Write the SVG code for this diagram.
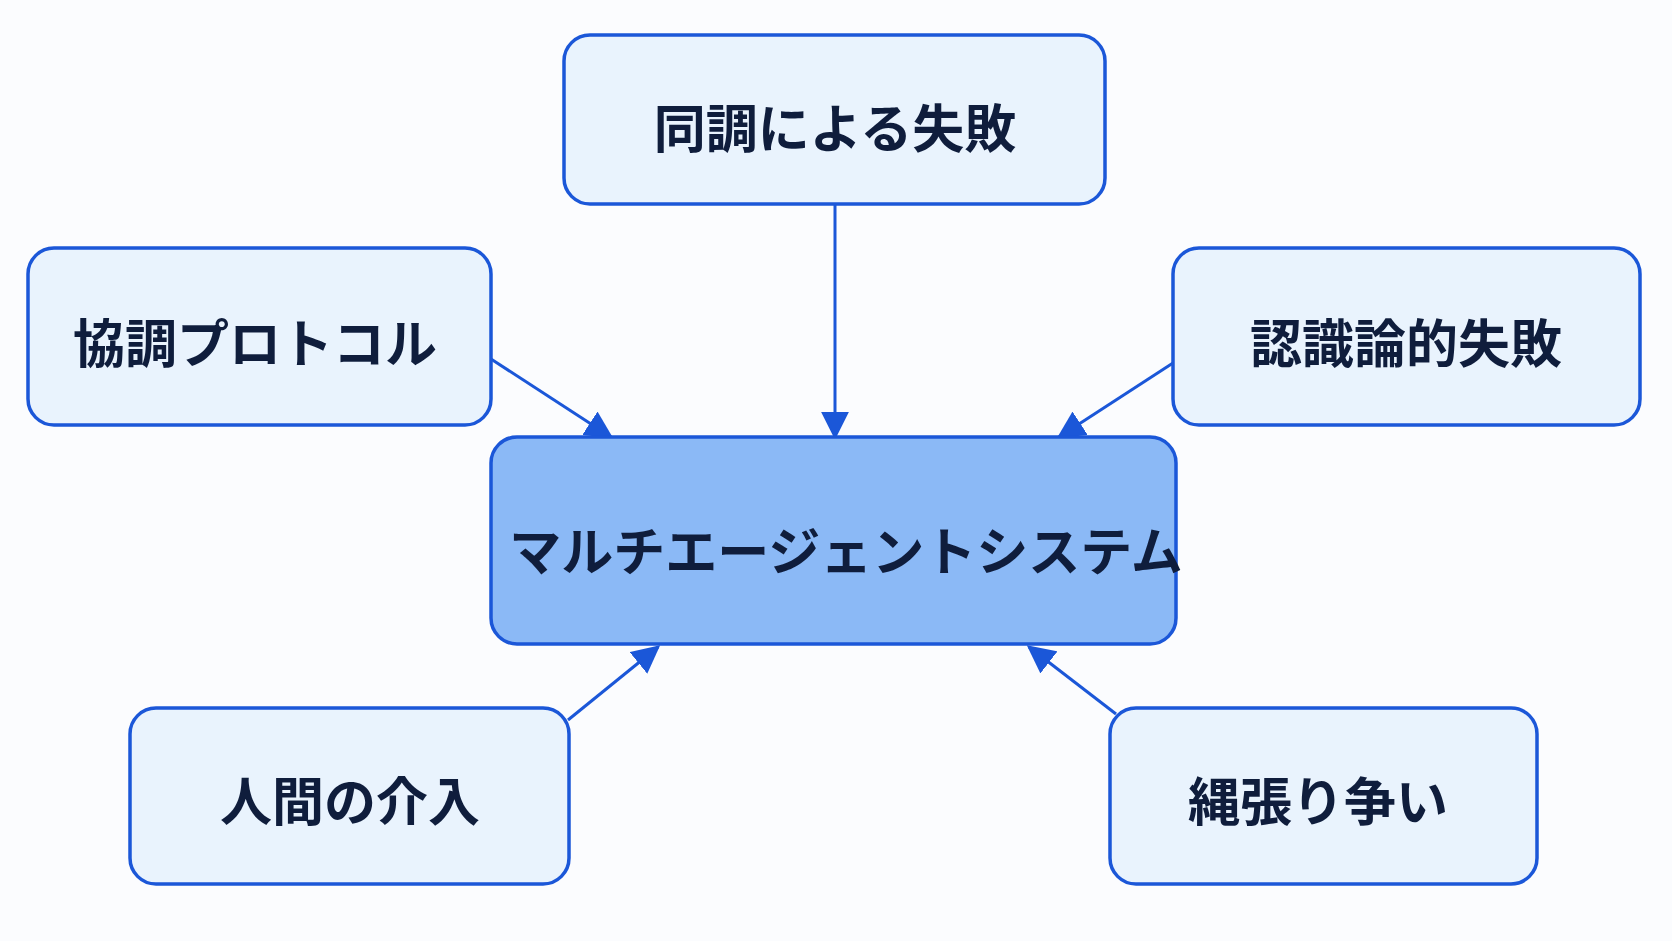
<svg xmlns="http://www.w3.org/2000/svg" width="1672" height="941" viewBox="0 0 1672 941">
<style>
.n{fill:#e9f3fd;stroke:#1b57d8;stroke-width:3.5}
.c{fill:#8bb9f6;stroke:#1b57d8;stroke-width:3.5}
.t{font-family:"Noto Sans CJK JP",sans-serif;font-weight:700;font-size:52px;fill:#0f1d3c;text-anchor:middle;dominant-baseline:central}
.e{stroke:#1b57d8;stroke-width:3;fill:none;marker-end:url(#a)}
</style>
<defs><marker id="a" viewBox="0 0 10 10" refX="9" refY="5" markerWidth="10" markerHeight="10" markerUnits="userSpaceOnUse" orient="auto"><path d="M0,0L10,5L0,10z" fill="#1b57d8" transform="scale(1)"/></marker>
<marker id="b" viewBox="0 0 10 10" refX="9" refY="5" markerWidth="28" markerHeight="28" markerUnits="userSpaceOnUse" orient="auto"><path d="M0,0L10,5L0,10z" fill="#1b57d8"/></marker></defs>
<rect width="1672" height="941" fill="#fbfcfe"/>
<g id="edges" style="marker-end:url(#b)">
<line class="e" style="marker-end:url(#b)" x1="835" y1="204" x2="835" y2="437"/>
<line class="e" style="marker-end:url(#b)" x1="491" y1="359" x2="611" y2="437"/>
<line class="e" style="marker-end:url(#b)" x1="1173" y1="363" x2="1059" y2="437"/>
<line class="e" style="marker-end:url(#b)" x1="568" y1="720" x2="658" y2="647"/>
<line class="e" style="marker-end:url(#b)" x1="1116" y1="714" x2="1029" y2="647"/>
</g>
<g id="center"><rect class="c" x="491" y="437" width="685" height="207" rx="26"/><text class="t" x="846" y="548">マルチエージェントシステム</text></g>
<g id="top"><rect class="n" x="564" y="35" width="541" height="169" rx="26"/><text class="t" x="835" y="125">同調による失敗</text></g>
<g id="left"><rect class="n" x="28" y="248" width="463" height="177" rx="26"/><text class="t" x="255" y="340">協調プロトコル</text></g>
<g id="right"><rect class="n" x="1173" y="248" width="467" height="177" rx="26"/><text class="t" x="1406" y="340">認識論的失敗</text></g>
<g id="bl"><rect class="n" x="130" y="708" width="439" height="176" rx="26"/><text class="t" x="350" y="798">人間の介入</text></g>
<g id="br"><rect class="n" x="1110" y="708" width="427" height="176" rx="26"/><text class="t" x="1318" y="798">縄張り争い</text></g>
</svg>
